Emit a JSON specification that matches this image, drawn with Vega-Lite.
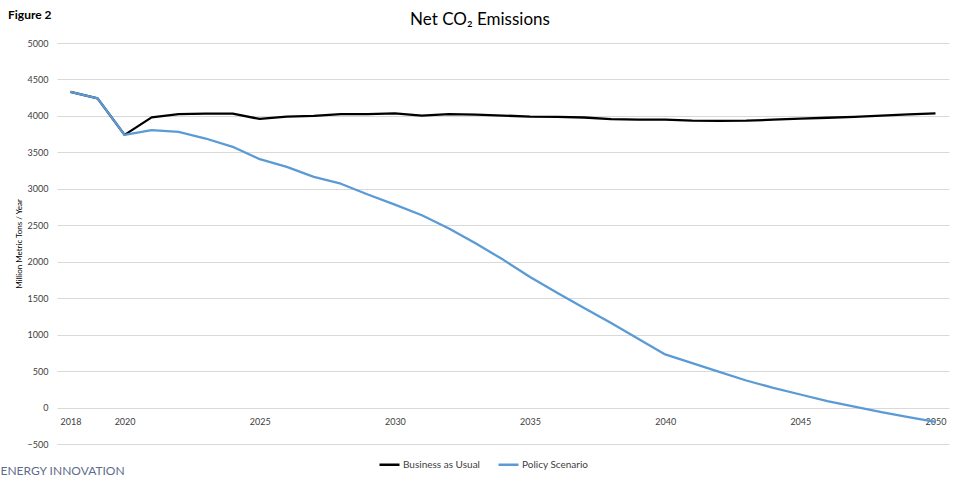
{
  "$schema": "https://vega.github.io/schema/vega-lite/v6.json",
  "background": "white",
  "padding": {"left": 0, "top": 9, "right": 10, "bottom": 0},
  "title": {"text": "Figure 2", "anchor": "start", "frame": "bounds", "fontSize": 12, "fontWeight": "bold", "font": "Lato", "color": "#000000", "dx": 8, "offset": -15, "dy": -4},
  "config": {
    "font": "Lato",
    "view": {"stroke": null},
    "axis": {"labelFont": "Lato", "titleFont": "Lato"}
  },
  "vconcat": [
    {
      "width": 892,
      "height": 401,
      "title": {"text": "Net CO₂ Emissions", "anchor": "middle", "frame": "group", "fontSize": 17, "fontWeight": "normal", "font": "Lato", "color": "#000000", "dx": -23, "offset": 10},
      "data": {
        "values": [
          {"year": 2018, "series": "Business as Usual", "value": 4330},
          {"year": 2019, "series": "Business as Usual", "value": 4240},
          {"year": 2020, "series": "Business as Usual", "value": 3740},
          {"year": 2021, "series": "Business as Usual", "value": 3980},
          {"year": 2022, "series": "Business as Usual", "value": 4025},
          {"year": 2023, "series": "Business as Usual", "value": 4030},
          {"year": 2024, "series": "Business as Usual", "value": 4030},
          {"year": 2025, "series": "Business as Usual", "value": 3958},
          {"year": 2026, "series": "Business as Usual", "value": 3990},
          {"year": 2027, "series": "Business as Usual", "value": 4000},
          {"year": 2028, "series": "Business as Usual", "value": 4025},
          {"year": 2029, "series": "Business as Usual", "value": 4025},
          {"year": 2030, "series": "Business as Usual", "value": 4034},
          {"year": 2031, "series": "Business as Usual", "value": 4005},
          {"year": 2032, "series": "Business as Usual", "value": 4025},
          {"year": 2033, "series": "Business as Usual", "value": 4018},
          {"year": 2034, "series": "Business as Usual", "value": 4005},
          {"year": 2035, "series": "Business as Usual", "value": 3990},
          {"year": 2036, "series": "Business as Usual", "value": 3988},
          {"year": 2037, "series": "Business as Usual", "value": 3978},
          {"year": 2038, "series": "Business as Usual", "value": 3955},
          {"year": 2039, "series": "Business as Usual", "value": 3948},
          {"year": 2040, "series": "Business as Usual", "value": 3950},
          {"year": 2041, "series": "Business as Usual", "value": 3935},
          {"year": 2042, "series": "Business as Usual", "value": 3933},
          {"year": 2043, "series": "Business as Usual", "value": 3935},
          {"year": 2044, "series": "Business as Usual", "value": 3948},
          {"year": 2045, "series": "Business as Usual", "value": 3962},
          {"year": 2046, "series": "Business as Usual", "value": 3975},
          {"year": 2047, "series": "Business as Usual", "value": 3988},
          {"year": 2048, "series": "Business as Usual", "value": 4005},
          {"year": 2049, "series": "Business as Usual", "value": 4020},
          {"year": 2050, "series": "Business as Usual", "value": 4034},
          {"year": 2018, "series": "Policy Scenario", "value": 4330},
          {"year": 2019, "series": "Policy Scenario", "value": 4240},
          {"year": 2020, "series": "Policy Scenario", "value": 3740},
          {"year": 2021, "series": "Policy Scenario", "value": 3805},
          {"year": 2022, "series": "Policy Scenario", "value": 3782},
          {"year": 2023, "series": "Policy Scenario", "value": 3690},
          {"year": 2024, "series": "Policy Scenario", "value": 3576},
          {"year": 2025, "series": "Policy Scenario", "value": 3406},
          {"year": 2026, "series": "Policy Scenario", "value": 3301},
          {"year": 2027, "series": "Policy Scenario", "value": 3163},
          {"year": 2028, "series": "Policy Scenario", "value": 3070},
          {"year": 2029, "series": "Policy Scenario", "value": 2922},
          {"year": 2030, "series": "Policy Scenario", "value": 2784},
          {"year": 2031, "series": "Policy Scenario", "value": 2637},
          {"year": 2032, "series": "Policy Scenario", "value": 2455},
          {"year": 2033, "series": "Policy Scenario", "value": 2249},
          {"year": 2034, "series": "Policy Scenario", "value": 2029},
          {"year": 2035, "series": "Policy Scenario", "value": 1790},
          {"year": 2036, "series": "Policy Scenario", "value": 1575},
          {"year": 2037, "series": "Policy Scenario", "value": 1364},
          {"year": 2038, "series": "Policy Scenario", "value": 1158},
          {"year": 2039, "series": "Policy Scenario", "value": 944},
          {"year": 2040, "series": "Policy Scenario", "value": 728},
          {"year": 2041, "series": "Policy Scenario", "value": 609},
          {"year": 2042, "series": "Policy Scenario", "value": 490},
          {"year": 2043, "series": "Policy Scenario", "value": 371},
          {"year": 2044, "series": "Policy Scenario", "value": 270},
          {"year": 2045, "series": "Policy Scenario", "value": 179},
          {"year": 2046, "series": "Policy Scenario", "value": 87},
          {"year": 2047, "series": "Policy Scenario", "value": 14},
          {"year": 2048, "series": "Policy Scenario", "value": -64},
          {"year": 2049, "series": "Policy Scenario", "value": -133},
          {"year": 2050, "series": "Policy Scenario", "value": -197}
        ]
      },
      "mark": {"type": "line", "strokeWidth": 2.3, "strokeJoin": "round"},
      "encoding": {
        "x": {
          "field": "year", "type": "quantitative",
          "scale": {"domain": [2017.5, 2050.5], "nice": false, "zero": false},
          "axis": {
            "values": [2018, 2020, 2025, 2030, 2035, 2040, 2045, 2050],
            "format": "d", "grid": false, "domain": false, "ticks": false,
            "offset": -37, "labelPadding": 10, "labelFontSize": 9, "labelColor": "#404040",
            "title": "ENERGY INNOVATION", "titleX": -57, "titleY": 67, "titleAlign": "left",
            "titleAnchor": null, "titleBaseline": "alphabetic", "titleFontSize": 12,
            "titleFontWeight": "normal", "titleColor": "#5f6b8c"
          }
        },
        "y": {
          "field": "value", "type": "quantitative",
          "scale": {"domain": [-500, 5000], "nice": false, "zero": false},
          "axis": {
            "values": [-500, 0, 500, 1000, 1500, 2000, 2500, 3000, 3500, 4000, 4500, 5000],
            "format": "d", "domain": false, "ticks": false, "labelPadding": 9,
            "labelFontSize": 9, "labelColor": "#404040",
            "gridColor": "#d9d9d9", "gridWidth": 1,
            "title": "Million Metric Tons / Year", "titleFontSize": 8,
            "titleFontWeight": "normal", "titleColor": "#000000", "titlePadding": 4
          }
        },
        "color": {
          "field": "series", "type": "nominal",
          "scale": {"domain": ["Business as Usual", "Policy Scenario"], "range": ["#000000", "#5b9bd5"]},
          "legend": {
            "title": null, "orient": "none", "direction": "horizontal",
            "legendX": 321, "legendY": 410,
            "symbolType": "stroke", "symbolSize": 400, "symbolStrokeWidth": 2.5,
            "labelFontSize": 10, "labelColor": "#404040", "columnPadding": 13, "labelOffset": 2
          }
        }
      }
    }
  ]
}
